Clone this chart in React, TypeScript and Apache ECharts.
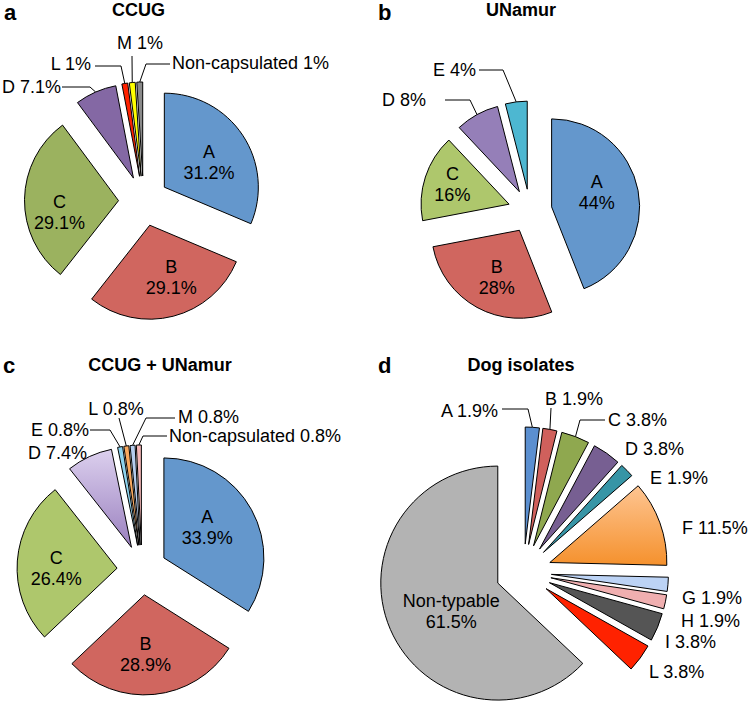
import React, { useEffect, useRef } from 'react';
import * as echarts from 'echarts';

const FONT = '"Liberation Sans", Arial, Helvetica, sans-serif';

// ---- Panel a: CCUG ----
const ccugCategories = ['A', 'B', 'C', 'D', 'L', 'M', 'Non-capsulated'];
const ccugValues = [31.2, 29.1, 29.1, 7.1, 1, 1, 1];

// ---- Panel b: UNamur ----
const unamurCategories = ['A', 'B', 'C', 'D', 'E'];
const unamurValues = [44, 28, 16, 8, 4];

// ---- Panel c: CCUG + UNamur ----
const combinedCategories = ['A', 'B', 'C', 'D', 'E', 'L', 'M', 'Non-capsulated'];
const combinedValues = [33.9, 28.9, 26.4, 7.4, 0.8, 0.8, 0.8, 0.8];

// ---- Panel d: Dog isolates ----
const dogCategories = ['A', 'B', 'C', 'D', 'E', 'F', 'G', 'H', 'I', 'L', 'Non-typable'];
const dogValues = [1.9, 1.9, 3.8, 3.8, 1.9, 11.5, 1.9, 1.9, 3.8, 3.8, 61.5];

const panelTitles = ['CCUG', 'UNamur', 'CCUG + UNamur', 'Dog isolates'];
const panelLetters = ['a', 'b', 'c', 'd'];

const grad = (top: string, bottom: string) =>
  new echarts.graphic.LinearGradient(0, 0, 0, 1, [
    { offset: 0, color: top },
    { offset: 1, color: bottom },
  ]);

type Spec = { x: number; y: number; align: 'left' | 'right' | 'center'; line?: number[][] };

// Layout / style configuration (positions of labels, pie centres, colours)
const PANELS: any[] = [
  {
    categories: ccugCategories,
    values: ccugValues,
    colors: ['#6497CC', '#D0665F', '#9BB25F', '#8468A4', '#FF2200', '#FFFF00', '#8A8A8A'],
    center: [143.5, 201],
    radius: 94,
    offset: 25,
    inside: { A: [3, 3], B: [9, 4], C: [-9, 13] },
    labels: {
      D: { x: 2, y: 87, align: 'left', line: [[90, 87], [62, 87]] },
      L: { x: 91, y: 64, align: 'right', line: [[121, 66], [95, 66]] },
      M: { x: 140, y: 43, align: 'center', line: [[132, 56]] },
      'Non-capsulated': { x: 172, y: 63, align: 'left', line: [[146, 64], [170, 64]] },
    },
  },
  {
    categories: unamurCategories,
    values: unamurValues,
    colors: ['#6497CC', '#D0665F', '#AEC76C', '#957FB8', '#4DB7D1'],
    center: [530, 211],
    radius: 88,
    offset: 22,
    inside: { A: [-1, -6], B: [0, 6], C: [-12, -5] },
    labels: {
      D: { x: 382, y: 100, align: 'left', line: [[470, 100], [445, 100]] },
      E: { x: 476, y: 70, align: 'right', line: [[503, 70], [479, 70]] },
    },
  },
  {
    categories: combinedCategories,
    values: combinedValues,
    colors: ['#6497CC', '#D0665F', '#AEC76C', grad('#DCD0EE', '#9A80BF'), '#8DD3EE', '#F8A95F', '#B5CDEE', '#F5B8B8'],
    center: [142, 570],
    radius: 100,
    offset: 25,
    inside: { A: [-3, -5], B: [-4, 7], C: [-8, 4] },
    labels: {
      D: { x: 28, y: 453, align: 'left' },
      E: { x: 31, y: 430, align: 'left', line: [[110, 430], [90, 430]] },
      L: { x: 116, y: 409, align: 'center', line: [[119, 418]] },
      M: { x: 178, y: 417, align: 'left', line: [[146, 418], [175, 418]] },
      'Non-capsulated': { x: 169, y: 436, align: 'left', line: [[143, 436], [167, 436]] },
    },
  },
  {
    categories: dogCategories,
    values: dogValues,
    colors: ['#5B8FD0', '#D0605C', '#8FA84F', '#775F92', '#3795A6', grad('#FEC592', '#F5912D'), '#BCD3F5', '#F0AFB0', '#555555', '#FF2200', '#B3B3B3'],
    center: [523.5, 572],
    radius: 117,
    offset: 28,
    inside: { 'Non-typable': [10, 4] },
    labels: {
      A: { x: 498, y: 411, align: 'right', line: [[528, 409], [502, 409]] },
      B: { x: 545, y: 399, align: 'left', line: [[551, 408]] },
      C: { x: 608, y: 420, align: 'left', line: [[580, 420], [605, 420]] },
      D: { x: 625, y: 449, align: 'left' },
      E: { x: 650, y: 478, align: 'left' },
      F: { x: 682, y: 528, align: 'left' },
      G: { x: 682, y: 598, align: 'left' },
      H: { x: 681, y: 621, align: 'left' },
      I: { x: 665, y: 642, align: 'left' },
      L: { x: 649, y: 672, align: 'left' },
    },
  },
];

const TITLE_POS = [
  { x: 138.5, y: 1 },
  { x: 521, y: 1 },
  { x: 160, y: 356 },
  { x: 521, y: 356 },
];
const LETTER_POS = [
  { x: 4, y: 1 },
  { x: 378, y: 1 },
  { x: 3, y: 354 },
  { x: 378, y: 354 },
];

const HIDDEN = {
  itemStyle: { color: 'rgba(0,0,0,0)', borderWidth: 0 },
  label: { show: false },
  labelLine: { show: false },
};

// Each slice of an exploded pie is drawn by its own pie series (same data,
// only that slice visible), whose centre is pushed out along the slice's middle.
function buildPanelSeries(panel: any, pIdx: number) {
  const total = panel.values.reduce((a: number, b: number) => a + b, 0);
  let cum = 0;
  return panel.categories.map((name: string, k: number) => {
    const v = panel.values[k];
    const mid = ((cum + v / 2) / total) * Math.PI * 2;
    cum += v;
    const center = [
      panel.center[0] + panel.offset * Math.sin(mid),
      panel.center[1] - panel.offset * Math.cos(mid),
    ];
    const insideShift: number[] | undefined = panel.inside[name];
    const spec: Spec | undefined = panel.labels[name];
    const data = panel.categories.map((n: string, i: number) => {
      if (i !== k) return { name: n, value: panel.values[i], ...HIDDEN };
      return {
        name: n,
        value: panel.values[i],
        itemStyle: { color: panel.colors[i], borderColor: '#000', borderWidth: 1 },
        label: insideShift
          ? { show: true, position: 'inside', formatter: '{b}\n{c}%', lineHeight: 21 }
          : { show: true, position: 'outside', formatter: '{b} {c}%' },
        labelLine: { show: !!(spec && spec.line) },
      };
    });
    return {
      type: 'pie',
      id: `pie${pIdx}_${k}`,
      center,
      radius: panel.radius,
      startAngle: 90,
      clockwise: true,
      silent: true,
      avoidLabelOverlap: false,
      emphasis: { disabled: true },
      label: {
        show: true,
        position: 'outside',
        color: '#000',
        fontFamily: FONT,
        fontSize: 18,
      },
      labelLine: { show: true, lineStyle: { color: '#000', width: 1 } },
      labelLayout: (p: any) => {
        if (p.dataIndex !== k) return {};
        if (insideShift) return { dx: insideShift[0], dy: insideShift[1] };
        if (!spec) return {};
        const out: any = { x: spec.x, y: spec.y, align: spec.align, verticalAlign: 'middle' };
        if (spec.line && p.labelLinePoints) {
          out.labelLinePoints = [p.labelLinePoints[0], ...spec.line];
        }
        return out;
      },
      data,
    };
  });
}

export default function App() {
  const ref = useRef<HTMLDivElement>(null);
  useEffect(() => {
    document.body.style.margin = '0';
    if (!ref.current) return;
    const chart = echarts.init(ref.current, undefined, { renderer: 'svg' });
    const titles: any[] = [];
    panelTitles.forEach((t, i) => {
      titles.push({
        text: t,
        left: TITLE_POS[i].x,
        top: TITLE_POS[i].y,
        textAlign: 'center',
        padding: 0,
        textStyle: { fontFamily: FONT, fontSize: 18, fontWeight: 'bold', color: '#000' },
      });
    });
    panelLetters.forEach((t, i) => {
      titles.push({
        text: t,
        left: LETTER_POS[i].x,
        top: LETTER_POS[i].y,
        padding: 0,
        textStyle: { fontFamily: FONT, fontSize: 22, fontWeight: 'bold', color: '#000' },
      });
    });
    const series: any[] = [];
    PANELS.forEach((p, i) => series.push(...buildPanelSeries(p, i)));
    chart.setOption({
      animation: false,
      backgroundColor: '#fff',
      title: titles,
      series,
    });
    return () => chart.dispose();
  }, []);
  return <div ref={ref} style={{ width: 750, height: 701 }} />;
}
